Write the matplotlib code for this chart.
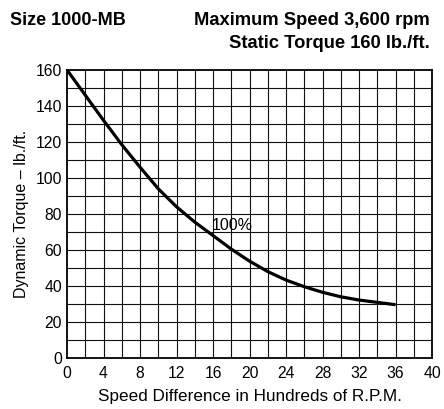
import matplotlib.pyplot as plt
import numpy as np

# curve (speed difference in hundreds of rpm, torque lb./ft.)
speed = [0, 2, 4, 6, 8, 10, 12, 14, 16, 18, 20, 22, 24, 26, 28, 30, 32, 34, 36]
torque = [160, 146, 132, 118.5, 106, 94, 84, 75.5, 68, 60.5, 53.8, 48, 43.3,
          39.6, 36.5, 34, 32.2, 30.9, 29.6]
x_ticks = [0, 4, 8, 12, 16, 20, 24, 28, 32, 36, 40]
y_ticks = [0, 20, 40, 60, 80, 100, 120, 140, 160]

plt.rcParams['font.family'] = ['Liberation Sans', 'DejaVu Sans']

fig = plt.figure(figsize=(4.44, 4.09), dpi=100)
ax = fig.add_axes([0.151, 0.1247, 0.822, 0.7042])

# grid: every 2 on x, every 10 on y
for gx in np.arange(2, 40, 2):
    ax.axvline(gx, color='#111111', lw=0.8, zorder=1)
for gy in np.arange(10, 160, 10):
    ax.axhline(gy, color='#111111', lw=0.8, zorder=1)

ax.plot(speed, torque, color='black', lw=2.3, zorder=3, solid_capstyle='butt',
        solid_joinstyle='round')
ax.text(15.9, 71.2, '100%', fontsize=11.5, ha='left', va='baseline', zorder=4)

ax.set_xlim(0, 40)
ax.set_ylim(0, 160)
ax.set_xticks(x_ticks)
ax.set_yticks(y_ticks)
ax.tick_params(length=0, labelsize=11.3)
ax.tick_params(axis='x', pad=5.5)
ax.tick_params(axis='y', pad=3.5)
for s in ax.spines.values():
    s.set_linewidth(1.3)
    s.set_color('black')

ax.set_xlabel('Speed Difference in Hundreds of R.P.M.', fontsize=12.3, labelpad=6)
ax.set_ylabel('Dynamic Torque \u2013 lb./ft.', fontsize=11.5, labelpad=5)

fig.text(0.023, 0.939, 'Size 1000-MB', fontsize=13, fontweight='bold',
         ha='left', va='baseline')
fig.text(0.969, 0.939, 'Maximum Speed 3,600 rpm', fontsize=13.2, fontweight='bold',
         ha='right', va='baseline')
fig.text(0.969, 0.882, 'Static Torque 160 lb./ft.', fontsize=13.2, fontweight='bold',
         ha='right', va='baseline')

fig.savefig('out.png', dpi=100)
